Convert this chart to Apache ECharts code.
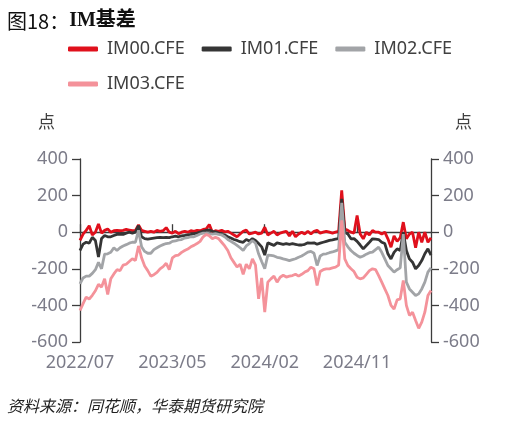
<!DOCTYPE html>
<html>
<head>
<meta charset="utf-8">
<script src="https://cdn.jsdelivr.net/npm/echarts@6/dist/echarts.min.js"></script>
<style>
html,body{margin:0;padding:0;background:#fff;}
#c{width:519px;height:426px;}
</style>
</head>
<body>
<div id="c"></div>
<script>
var seriesNames = ['IM00.CFE','IM01.CFE','IM02.CFE','IM03.CFE'];
var xTickLabels = ['2022/07','2023/05','2024/02','2024/11'];
var yTicks = {min:-600, max:400, step:200};

var im00 = [-45,-10,10,35,-15,0,45,-5,10,18,0,8,10,8,10,15,12,8,10,40,10,5,0,
  5,0,10,5,8,25,0,-5,5,-8,0,5,0,8,5,10,8,15,18,42,0,8,5,10,2,5,-5,-15,-25,-10,5,12,-10,
  -5,0,-10,-5,27,-15,-5,5,-15,-5,0,5,-20,5,-25,-10,0,-10,5,-10,5,10,-5,0,5,0,-5,0,5,228,18,10,0,-5,91,-10,-36,0,-15,9,0,0,-10,0,-36,-82,-20,-50,-30,55,-36,-10,0,-85,0,-55,0,-55,-30];
var im01 = [-100,-65,-55,-60,-28,-45,-135,-35,-18,-25,-25,-18,-12,-10,-12,-5,0,-5,0,36,-25,-35,-38,
  -35,-32,-30,-28,-30,-28,-30,-25,-22,-25,-20,-18,-15,-12,-8,-5,0,5,10,12,5,2,-5,-12,-15,-25,-32,-40,-45,-52,-55,-40,-48,
  -35,-45,-62,-80,-125,-58,-65,-72,-58,-62,-66,-62,-66,-62,-66,-70,-70,-66,-58,-60,-58,-66,-60,-55,-50,-45,-42,-38,-35,182,0,-10,-36,-35,-50,-70,-91,-73,-55,-36,-38,-40,-55,-62,-118,-146,-110,-91,-100,0,-100,-146,-164,-200,-182,-155,-118,-91,-125];
var im02 = [-282,-250,-240,-240,-225,-205,-165,-200,-120,-118,-110,-85,-100,-85,-75,-68,-60,-55,-55,10,-80,-105,-115,
  -115,-95,-85,-75,-68,-62,-60,-50,-48,-42,-40,-32,-30,-25,-25,-18,-10,-5,-5,-8,-10,-8,-12,-15,-25,-40,-50,-60,-72,-85,-100,-75,-62,
  -45,-60,-118,-160,-200,-125,-127,-130,-137,-140,-146,-150,-155,-150,-145,-137,-130,-120,-109,-105,-115,-182,-130,-120,-118,-112,-108,-102,-95,160,-55,-80,-100,-115,-127,-137,-130,-120,-112,-109,-95,-82,-110,-146,-182,-200,-218,-205,-195,-10,-273,-310,-328,-346,-337,-310,-273,-218,-195];
var im03 = [-428,-390,-355,-365,-345,-320,-285,-300,-255,-340,-255,-228,-205,-210,-180,-175,-160,-145,-155,-75,-140,-185,-210,
  -240,-232,-220,-200,-188,-170,-205,-140,-128,-125,-110,-100,-92,-80,-72,-62,-50,-25,-12,-20,-35,-28,-35,-55,-75,-100,-140,-165,-190,-175,-230,-175,-200,
  -146,-180,-364,-250,-437,-273,-255,-240,-273,-246,-235,-245,-240,-237,-230,-240,-230,-218,-210,-191,-200,-291,-215,-205,-200,-200,-195,-191,-180,65,-146,-182,-200,-215,-246,-255,-250,-230,-210,-200,-205,-237,-273,-310,-346,-400,-420,-370,-364,-264,-400,-455,-437,-483,-525,-491,-437,-346,-319];

var labelStep = 30;
var categories = im00.map(function(_, i){ return i % labelStep === 0 ? (xTickLabels[i / labelStep] || '') : ''; });

var colors = ['#e0101c','#353535','#a2a4a7','#f4929a'];
var seriesData = [im00, im01, im02, im03];

var chart = echarts.init(document.getElementById('c'));
var tickColor = '#7c7c89';
var axisColor = '#3c3c3c';
var yAxisBase = {
  type:'value', min:yTicks.min, max:yTicks.max, interval:yTicks.step,
  axisLine:{show:true, lineStyle:{color:axisColor, width:1.3}},
  axisTick:{show:true, length:8, lineStyle:{color:axisColor, width:1.3}},
  axisLabel:{color:tickColor, fontSize:18, fontFamily:'Noto Sans', margin:12},
  splitLine:{show:false}
};
var legendBase = {
  left:63, itemGap:17,
  icon:'roundRect', itemWidth:30, itemHeight:5,
  textStyle:{fontSize:18, fontFamily:'Noto Sans', color:'#404040', padding:[0,0,0,4]}
};
chart.setOption({
  backgroundColor:'#fff',
  animation:false,
  color:colors,
  title:{
    left:7, top:11, padding:0,
    text:'{a|图18：}{b|IM基差}',
    textStyle:{
      rich:{
        a:{fontSize:20, fontFamily:'Noto Sans CJK SC', color:'#111', fontWeight:'normal'},
        b:{fontSize:20, fontFamily:'Liberation Serif, Noto Sans CJK SC', color:'#111', fontWeight:'bold'}
      }
    }
  },
  legend:[
    Object.assign({}, legendBase, {top:35, data:seriesNames.slice(0,3)}),
    Object.assign({}, legendBase, {top:70, data:seriesNames.slice(3)})
  ],
  graphic:[
    {type:'text', left:38, top:113, style:{text:'点', fontSize:17, fontFamily:'Noto Sans CJK SC', fill:'#404040'}},
    {type:'text', left:455, top:113, style:{text:'点', fontSize:17, fontFamily:'Noto Sans CJK SC', fill:'#404040'}},
    {type:'text', left:7, top:398, style:{text:'资料来源：同花顺，华泰期货研究院', fontSize:16, fontStyle:'italic', fontFamily:'Noto Sans CJK SC', fill:'#222'}}
  ],
  grid:{left:80, right:88, top:159, bottom:84, containLabel:false},
  xAxis:{
    type:'category', data:categories, boundaryGap:false,
    axisLine:{show:true, lineStyle:{color:axisColor, width:1.3}},
    axisTick:{show:true, inside:true, length:8, interval:labelStep-1, lineStyle:{color:axisColor, width:1.3}},
    axisLabel:{interval:labelStep-1, color:tickColor, fontSize:18, fontFamily:'Noto Sans', margin:12},
    splitLine:{show:false}
  },
  yAxis:[
    Object.assign({}, yAxisBase, {position:'left'}),
    Object.assign({}, yAxisBase, {position:'right'})
  ],
  series:seriesNames.map(function(n, k){
    return {name:n, type:'line', data:seriesData[k], showSymbol:false, symbol:'none',
      lineStyle:{width:2.8, color:colors[k]}, itemStyle:{color:colors[k]}, yAxisIndex:0};
  })
});
</script>
</body>
</html>
